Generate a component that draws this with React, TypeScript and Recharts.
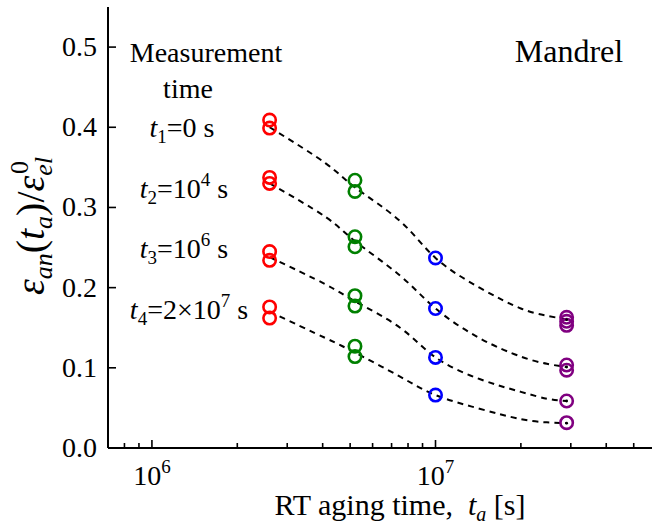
import { ComposedChart, Line, Scatter, XAxis, YAxis } from "recharts";

const SERIF = "'Liberation Serif', 'Times New Roman', serif";

// measured aging times (s) for each colour group
const agingTimes = [2.6e6, 5.2e6, 1.0e7, 2.9e7];

// eps_an(t_a)/eps_el^0, grouped by aging time
const redValues = [0.409, 0.399, 0.3375, 0.33, 0.245, 0.234, 0.176, 0.162];
const greenValues = [0.334, 0.32, 0.2635, 0.251, 0.19, 0.177, 0.127, 0.114];
const blueValues = [0.237, 0.174, 0.113, 0.066];
const purpleValues = [0.163, 0.158, 0.153, 0.1035, 0.097, 0.0586, 0.0316];

// dashed fit curves
const fitTimes = [2.6e6, 4.1e6, 5.2e6, 7.5e6, 1.0e7, 1.43e7, 2.0e7, 2.47e7, 2.9e7];
const fitT1 = [0.4, 0.355, 0.325, 0.283, 0.237, 0.2, 0.174, 0.165, 0.16];
const fitT2 = [0.33, 0.288, 0.258, 0.215, 0.174, 0.137, 0.114, 0.105, 0.101];
const fitT3 = [0.238, 0.204, 0.183, 0.15, 0.113, 0.086, 0.07, 0.0615, 0.0586];
const fitT4 = [0.17, 0.137, 0.119, 0.089, 0.066, 0.049, 0.036, 0.032, 0.031];

const xTicks = [
  7e5, 8e5, 9e5, 1e6, 2e6, 3e6, 4e6, 5e6, 6e6, 7e6, 8e6, 9e6, 1e7, 2e7, 3e7, 4e7, 5e7,
];
const xMajorTicks = [1e6, 1e7];
const xMajorExponents = ["6", "7"];
const yTicks = [0, 0.1, 0.2, 0.3, 0.4, 0.5];

const groups = [
  { color: "#ff0000", time: agingTimes[0], values: redValues },
  { color: "#008000", time: agingTimes[1], values: greenValues },
  { color: "#0000ff", time: agingTimes[2], values: blueValues },
  { color: "#800080", time: agingTimes[3], values: purpleValues },
];
const fits = [fitT1, fitT2, fitT3, fitT4];

const toPoints = (time: number, values: number[]) => values.map((y) => ({ x: time, y }));
const toCurve = (values: number[]) => fitTimes.map((x, i) => ({ x, y: values[i] }));

function BottomTick({ x, y, payload }: any) {
  const idx = xMajorTicks.indexOf(payload.value);
  const major = idx >= 0;
  return (
    <g>
      <line x1={x} x2={x} y1={y} y2={y - (major ? 8 : 5)} stroke="#000" strokeWidth={1.6} />
      {major && (
        <text x={x} y={y + 37} textAnchor="middle" fontSize={28} fontFamily={SERIF} fill="#000">
          10
          <tspan dy={-12} fontSize={19}>
            {xMajorExponents[idx]}
          </tspan>
        </text>
      )}
    </g>
  );
}

function TopTick({ x, y, payload }: any) {
  const major = xMajorTicks.includes(payload.value);
  return <line x1={x} x2={x} y1={y} y2={y + (major ? 8 : 5)} stroke="#000" strokeWidth={1.6} />;
}

function LeftTick({ x, y, payload }: any) {
  return (
    <g>
      <line x1={x} x2={x + 8} y1={y} y2={y} stroke="#000" strokeWidth={1.6} />
      <text x={x - 11} y={y + 9} textAnchor="end" fontSize={28} fontFamily={SERIF} fill="#000">
        {payload.value.toFixed(1)}
      </text>
    </g>
  );
}

function RightTick({ x, y }: any) {
  return <line x1={x} x2={x - 8} y1={y} y2={y} stroke="#000" strokeWidth={1.6} />;
}

const ringShape = (color: string) => (props: any) => (
  <circle cx={props.cx} cy={props.cy} r={6.2} fill="none" stroke={color} strokeWidth={2.6} />
);

const endDot = (count: number) => (props: any) =>
  props.index === count - 1 ? (
    <circle key={props.index} cx={props.cx} cy={props.cy} r={1.4} fill="#000" />
  ) : (
    <g key={props.index} />
  );

export default function App() {
  return (
    <div style={{ position: "absolute", left: 0, top: 0, background: "#fff" }}>
      <ComposedChart width={652} height={528} margin={{ top: 7, right: 0, bottom: 0, left: 8 }}>
        <XAxis
          xAxisId="b"
          dataKey="x"
          type="number"
          scale="log"
          domain={[7e5, 5.8e7]}
          allowDataOverflow
          ticks={xTicks}
          interval={0}
          tick={<BottomTick />}
          tickLine={false}
          tickSize={0}
          tickMargin={0}
          height={80}
          axisLine={{ stroke: "#000", strokeWidth: 2 }}
        />
        <XAxis
          xAxisId="t"
          orientation="top"
          dataKey="x"
          type="number"
          scale="log"
          domain={[7e5, 5.8e7]}
          allowDataOverflow
          ticks={xTicks}
          interval={0}
          tick={<TopTick />}
          tickLine={false}
          tickSize={0}
          tickMargin={0}
          height={0}
          axisLine={{ stroke: "#000", strokeWidth: 2 }}
        />
        <YAxis
          yAxisId="l"
          dataKey="y"
          type="number"
          domain={[0, 0.55]}
          ticks={yTicks}
          interval={0}
          tick={<LeftTick />}
          tickLine={false}
          tickSize={0}
          tickMargin={0}
          width={100}
          axisLine={{ stroke: "#000", strokeWidth: 2 }}
        />
        <YAxis
          yAxisId="r"
          orientation="right"
          dataKey="y"
          type="number"
          domain={[0, 0.55]}
          ticks={yTicks}
          interval={0}
          tick={<RightTick />}
          tickLine={false}
          tickSize={0}
          tickMargin={0}
          width={0}
          axisLine={{ stroke: "#000", strokeWidth: 2 }}
        />
        {groups.map((g, i) => (
          <Scatter
            key={`s${i}`}
            xAxisId="b"
            yAxisId="l"
            data={toPoints(g.time, g.values)}
            dataKey="y"
            shape={ringShape(g.color)}
            isAnimationActive={false}
          />
        ))}
        {fits.map((f, i) => (
          <Line
            key={`f${i}`}
            xAxisId="b"
            yAxisId="l"
            data={toCurve(f)}
            dataKey="y"
            type="natural"
            stroke="#000"
            strokeWidth={2}
            strokeDasharray="6 5"
            dot={endDot(fitTimes.length)}
            activeDot={false}
            isAnimationActive={false}
          />
        ))}
        <g fontFamily={SERIF} fill="#000">
          <text x={206} y={62} textAnchor="middle" fontSize={28}>
            Measurement
          </text>
          <text x={188} y={98} textAnchor="middle" fontSize={28}>
            time
          </text>
          <text x={569} y={62} textAnchor="middle" fontSize={32}>
            Mandrel
          </text>
          <text x={182} y={137} textAnchor="middle" fontSize={28}>
            <tspan fontStyle="italic">t</tspan>
            <tspan fontSize={19} dy={6}>1</tspan>
            <tspan dy={-6}>=0 s</tspan>
          </text>
          <text x={184} y={198} textAnchor="middle" fontSize={28}>
            <tspan fontStyle="italic">t</tspan>
            <tspan fontSize={19} dy={6}>2</tspan>
            <tspan dy={-6}>=10</tspan>
            <tspan fontSize={19} dy={-12}>4</tspan>
            <tspan dy={12}> s</tspan>
          </text>
          <text x={184} y={258} textAnchor="middle" fontSize={28}>
            <tspan fontStyle="italic">t</tspan>
            <tspan fontSize={19} dy={6}>3</tspan>
            <tspan dy={-6}>=10</tspan>
            <tspan fontSize={19} dy={-12}>6</tspan>
            <tspan dy={12}> s</tspan>
          </text>
          <text x={189} y={319} textAnchor="middle" fontSize={28}>
            <tspan fontStyle="italic">t</tspan>
            <tspan fontSize={19} dy={6}>4</tspan>
            <tspan dy={-6}>=2×10</tspan>
            <tspan fontSize={19} dy={-12}>7</tspan>
            <tspan dy={12}> s</tspan>
          </text>
          <text x={400} y={515} textAnchor="middle" fontSize={30}>
            RT aging time,{"\u00A0\u00A0"}
            <tspan fontStyle="italic">t</tspan>
            <tspan fontStyle="italic" fontSize={20} dy={6}>a</tspan>
            <tspan dy={-6}> [s]</tspan>
          </text>
          <text
            x={0}
            y={0}
            transform="translate(44 226) rotate(-90)"
            textAnchor="middle"
            fontSize={40}
          >
            <tspan fontStyle="italic">ε</tspan>
            <tspan fontStyle="italic" fontSize={26} dy={8}>an</tspan>
            <tspan dy={-8}>(</tspan>
            <tspan fontStyle="italic">t</tspan>
            <tspan fontStyle="italic" fontSize={26} dy={8}>a</tspan>
            <tspan dy={-8}>)/</tspan>
            <tspan fontStyle="italic">ε</tspan>
            <tspan fontStyle="italic" fontSize={26} dy={8}>el</tspan>
            <tspan fontSize={26} dx={-17} dy={-24}>0</tspan>
          </text>
        </g>
      </ComposedChart>
    </div>
  );
}
